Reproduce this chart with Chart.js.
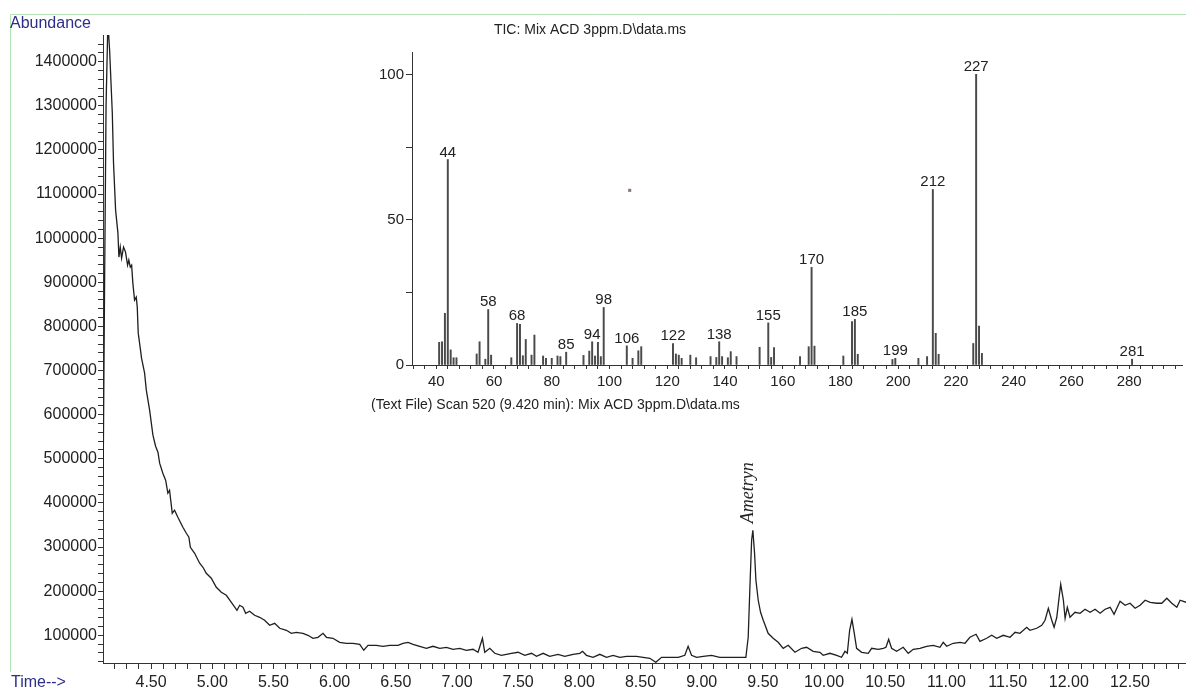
<!DOCTYPE html>
<html>
<head>
<meta charset="utf-8">
<title>TIC: Mix ACD 3ppm.D</title>
<script src="https://cdn.jsdelivr.net/npm/chart.js@4.4.0/dist/chart.umd.min.js"></script>
<style>
  html, body { margin: 0; padding: 0; background: #fff; }
  #wrap { position: relative; width: 1186px; height: 690px; }
  #wrap canvas { position: absolute; left: 0; top: 0; }
</style>
</head>
<body>
<div id="wrap">
  <canvas id="ticChart" width="1186" height="690"></canvas>
  <canvas id="scanChart" width="1186" height="690"></canvas>
</div>
<script>
// total ion chromatogram: retention time (min) and abundance
const tic_time = [
  4.108, 4.120, 4.132, 4.147, 4.161, 4.183, 4.193, 4.210, 4.229, 4.237,
  4.248, 4.259, 4.275, 4.291, 4.308, 4.318, 4.330, 4.341, 4.351, 4.365,
  4.379, 4.387, 4.395, 4.406, 4.422, 4.447, 4.461, 4.488, 4.515, 4.537,
  4.556, 4.570, 4.596, 4.619, 4.637, 4.651, 4.673, 4.692, 4.719, 4.760,
  4.788, 4.809, 4.821, 4.856, 4.897, 4.924, 4.951, 4.992, 5.033, 5.074,
  5.115, 5.156, 5.202, 5.224, 5.251, 5.273, 5.305, 5.346, 5.387, 5.428,
  5.469, 5.510, 5.551, 5.606, 5.646, 5.687, 5.741, 5.782, 5.823, 5.864,
  5.905, 5.933, 5.986, 6.041, 6.096, 6.150, 6.205, 6.238, 6.273, 6.341,
  6.395, 6.450, 6.518, 6.559, 6.600, 6.641, 6.695, 6.750, 6.804, 6.859,
  6.914, 6.968, 7.022, 7.077, 7.131, 7.172, 7.208, 7.227, 7.268, 7.309,
  7.363, 7.404, 7.445, 7.499, 7.554, 7.609, 7.650, 7.704, 7.758, 7.826,
  7.881, 7.949, 8.004, 8.026, 8.058, 8.112, 8.167, 8.222, 8.276, 8.331,
  8.386, 8.467, 8.521, 8.576, 8.625, 8.672, 8.740, 8.808, 8.862, 8.889,
  8.917, 8.958, 9.012, 9.081, 9.148, 9.216, 9.285, 9.326, 9.361, 9.380,
  9.394, 9.408, 9.418, 9.432, 9.443, 9.462, 9.481, 9.503, 9.543, 9.584,
  9.625, 9.666, 9.707, 9.762, 9.817, 9.857, 9.911, 9.966, 9.993, 10.048,
  10.103, 10.143, 10.171, 10.190, 10.209, 10.228, 10.247, 10.266, 10.307, 10.361,
  10.389, 10.443, 10.484, 10.506, 10.528, 10.552, 10.593, 10.647, 10.688, 10.729,
  10.784, 10.838, 10.892, 10.947, 10.974, 11.002, 11.056, 11.111, 11.152, 11.192,
  11.242, 11.274, 11.329, 11.370, 11.411, 11.465, 11.520, 11.561, 11.601, 11.656,
  11.683, 11.738, 11.779, 11.806, 11.833, 11.861, 11.880, 11.902, 11.921, 11.934,
  11.956, 11.970, 11.988, 12.010, 12.051, 12.092, 12.133, 12.174, 12.215, 12.256,
  12.297, 12.338, 12.370, 12.419, 12.460, 12.501, 12.542, 12.583, 12.624, 12.665,
  12.720, 12.760, 12.801, 12.842, 12.883, 12.910, 12.958
];
const tic_abundance = [
  450000, 900000, 1300000, 1490000, 1426500, 1283700, 1170300, 1063700, 1011600, 957200,
  979800, 954900, 979800, 968500, 939000, 950400, 934500, 939000, 898200, 859600,
  866500, 843800, 784800, 762100, 728100, 694100, 655600, 610200, 553500, 528600,
  515000, 490000, 467400, 451500, 422000, 428800, 376600, 383500, 367600, 344900,
  331300, 322200, 299500, 285900, 263300, 254200, 240600, 229300, 208800, 197500,
  190700, 174800, 156700, 168000, 163500, 149900, 154400, 145400, 140800, 134000,
  122700, 127200, 115900, 111300, 104500, 106800, 104500, 100000, 93200, 95500,
  104500, 95500, 93200, 84100, 81900, 81900, 79600, 66000, 77300, 77300,
  75100, 77300, 77300, 81900, 84100, 79600, 75100, 70500, 75100, 70500,
  72800, 68300, 70500, 66000, 68300, 61500, 93200, 61500, 70500, 59200,
  54600, 56900, 59200, 61500, 54600, 59200, 52400, 59200, 52400, 56900,
  52400, 56900, 59200, 63700, 54600, 50100, 56900, 50100, 54600, 50100,
  52400, 52400, 50100, 47800, 38800, 50100, 50100, 50100, 54600, 75100,
  54600, 50100, 52400, 54600, 50100, 50100, 50100, 50100, 50100, 95500,
  208800, 315400, 338100, 286000, 224700, 179400, 152200, 134000, 104500, 93200,
  84100, 70500, 77300, 61500, 70500, 72800, 63700, 61500, 54600, 59200,
  54600, 50100, 63700, 59200, 111300, 136300, 104500, 70500, 61500, 59200,
  70500, 68300, 70500, 72800, 90900, 70500, 63700, 72800, 59200, 68300,
  70500, 75100, 77300, 72800, 84100, 75100, 81900, 84100, 81900, 95500,
  102300, 86400, 93200, 100000, 93200, 100000, 95500, 106800, 104500, 118100,
  111300, 115900, 122700, 134000, 161200, 134000, 118100, 140800, 186200, 215600,
  179400, 138500, 163500, 140800, 152200, 149900, 159000, 152200, 159000, 149900,
  159000, 163500, 147600, 177100, 168000, 172600, 161200, 168000, 179400, 174800,
  172600, 172600, 183900, 172600, 163500, 179400, 174800
];
const time_tick_labels = [4.5, 5, 5.5, 6, 6.5, 7, 7.5, 8, 8.5, 9, 9.5, 10, 10.5, 11, 11.5, 12, 12.5];
const abundance_tick_labels = [100000, 200000, 300000, 400000, 500000, 600000, 700000,
  800000, 900000, 1000000, 1100000, 1200000, 1300000, 1400000];

// mass spectrum of scan 520 (9.420 min): m/z and relative intensity (%)
const ms_mz = [
  41, 42, 43, 44, 45, 46, 47, 54, 55, 57, 58, 59, 66, 68, 69, 70, 71, 73, 74,
  77, 78, 80, 82, 83, 85, 91, 93, 94, 95, 96, 97, 98, 106, 108, 110, 111,
  122, 123, 124, 125, 128, 130, 135, 137, 138, 139, 141, 142, 144,
  152, 155, 156, 157, 166, 169, 170, 171, 181, 184, 185, 186, 198, 199,
  207, 210, 212, 213, 214, 226, 227, 228, 229, 281
];
const ms_intensity = [
  7.8, 8, 17.8, 70.7, 5.2, 2.5, 2.5, 3.8, 8, 2, 19.1, 3.4, 2.5, 14.3, 14, 3.2, 8.8, 3.4, 10.3,
  3.1, 2.3, 2.3, 3.1, 2.9, 4.4, 3.3, 4.8, 8, 3.1, 7.8, 2.9, 19.8, 6.6, 2.3, 4.9, 6.3,
  7.4, 3.8, 3.4, 2.3, 3.4, 2.5, 2.9, 2.6, 8, 2.9, 2.5, 4.6, 2.9,
  6.1, 14.5, 2.6, 6, 2.9, 6.3, 33.6, 6.5, 3.1, 14.9, 15.7, 3.7, 1.9, 2.3,
  2.3, 2.9, 60.4, 10.9, 3.7, 7.4, 100, 13.4, 4, 2
];
const ms_labels = [44, 58, 68, 85, 94, 98, 106, 122, 138, 155, 170, 185, 199, 212, 227, 281];
const mz_tick_labels = [40, 60, 80, 100, 120, 140, 160, 180, 200, 220, 240, 260, 280];
const intensity_tick_labels = [0, 50, 100];
const scan_cursor = [107, 60.1];

Chart.defaults.font.family = "'Liberation Sans', Arial, Helvetica, sans-serif";
Chart.defaults.color = '#222';

const AXIS = '#333';
const BLUE = '#2d2d8a';

// green frame and the free text around the chromatogram
const ticDecor = {
  id: 'ticDecor',
  beforeDraw(chart) {
    const ctx = chart.ctx;
    ctx.save();
    ctx.strokeStyle = '#b4e2b4';
    ctx.lineWidth = 1;
    ctx.beginPath();
    ctx.moveTo(10.5, 672);
    ctx.lineTo(10.5, 14.5);
    ctx.lineTo(1186, 14.5);
    ctx.stroke();
    ctx.restore();
  },
  afterDraw(chart) {
    const ctx = chart.ctx;
    ctx.save();
    ctx.textBaseline = 'middle';
    ctx.textAlign = 'left';
    ctx.fillStyle = BLUE;
    ctx.font = "16px 'Liberation Sans', Arial, sans-serif";
    ctx.fillText('Abundance', 10, 24);
    ctx.fillText('Time-->', 11, 683);

    ctx.fillStyle = '#222';
    ctx.font = "14px 'Liberation Sans', Arial, sans-serif";
    ctx.textAlign = 'center';
    ctx.fillText('TIC: Mix ACD 3ppm.D\\data.ms', 590, 30);
    ctx.textAlign = 'left';
    ctx.fillText('(Text File) Scan 520 (9.420 min): Mix ACD 3ppm.D\\data.ms', 371, 405);

    // compound name above the big peak between 9 and 10 min
    let best = -1;
    tic_time.forEach((t, i) => {
      if (t > 9 && t < 10 && (best < 0 || tic_abundance[i] > tic_abundance[best])) best = i;
    });
    const px = chart.scales.x.getPixelForValue(tic_time[best]);
    const py = chart.scales.y.getPixelForValue(tic_abundance[best]);
    ctx.translate(px, py - 7);
    ctx.rotate(-Math.PI / 2);
    ctx.textBaseline = 'alphabetic';
    ctx.font = "italic 18px 'Liberation Serif', 'Times New Roman', serif";
    ctx.fillText('Ametryn', 0, 0);
    ctx.restore();
  }
};

new Chart(document.getElementById('ticChart'), {
  type: 'line',
  data: {
    datasets: [{
      data: tic_time.map((t, i) => ({ x: t, y: tic_abundance[i] })),
      borderColor: '#1f1f1f',
      borderWidth: 1.3,
      pointRadius: 0,
      tension: 0,
      fill: false
    }]
  },
  options: {
    responsive: false,
    animation: false,
    layout: { padding: { left: 0, top: 35, right: 0, bottom: 0 } },
    plugins: { legend: { display: false }, tooltip: { enabled: false } },
    scales: {
      x: {
        type: 'linear',
        min: 4.107,
        max: 12.958,
        grid: { drawOnChartArea: false, tickLength: 6, color: AXIS },
        border: { color: AXIS, width: 1 },
        ticks: {
          stepSize: 0.1,
          autoSkip: false,
          maxRotation: 0,
          includeBounds: false,
          padding: 4,
          font: { size: 16 },
          callback: (v) => time_tick_labels.some((l) => Math.abs(l - v) < 1e-6) ? v.toFixed(2) : ''
        },
        afterFit: (s) => { s.height = 27; }
      },
      y: {
        type: 'linear',
        min: 37200,
        max: 1460500,
        grid: { drawOnChartArea: false, tickLength: 5, color: AXIS },
        border: { color: AXIS, width: 1 },
        ticks: {
          autoSkip: false,
          padding: 1,
          font: { size: 16 },
          callback: (v) => abundance_tick_labels.some((l) => Math.abs(l - v) < 1) ? String(Math.round(v)) : ''
        },
        // minor tick every 20000, labelled every 100000
        afterBuildTicks: (s) => {
          const t = [];
          for (let v = 40000; v <= 1440000; v += 20000) t.push({ value: v });
          s.ticks = t;
        },
        afterFit: (s) => { s.width = 103; }
      }
    }
  },
  plugins: [ticDecor]
});

// peak m/z labels over the spectrum lines
const msLabels = {
  id: 'msLabels',
  afterDatasetsDraw(chart) {
    const ctx = chart.ctx;
    ctx.save();
    ctx.fillStyle = '#222';
    ctx.font = "15px 'Liberation Sans', Arial, sans-serif";
    ctx.textAlign = 'center';
    ctx.textBaseline = 'alphabetic';
    ms_labels.forEach((m) => {
      const i = ms_mz.indexOf(m);
      const x = chart.scales.x.getPixelForValue(m);
      const y = chart.scales.y.getPixelForValue(ms_intensity[i]);
      ctx.fillText(String(m), x, y - 3);
    });
    ctx.restore();
  }
};

new Chart(document.getElementById('scanChart'), {
  type: 'bar',
  data: {
    datasets: [{
      type: 'bar',
      data: ms_mz.map((m, i) => ({ x: m, y: ms_intensity[i] })),
      backgroundColor: '#4a4a4a',
      barThickness: 1.3,
      grouped: false
    }, {
      type: 'scatter',
      data: [{ x: scan_cursor[0], y: scan_cursor[1] }],
      pointStyle: 'rect',
      pointRadius: 2.2,
      backgroundColor: '#8e7483',
      borderWidth: 0
    }]
  },
  options: {
    responsive: false,
    animation: false,
    layout: { padding: { left: 0, top: 52, right: 4, bottom: 0 } },
    plugins: { legend: { display: false }, tooltip: { enabled: false } },
    scales: {
      x: {
        type: 'linear',
        min: 31.6,
        max: 298.3,
        offset: false,
        grid: { offset: false, drawOnChartArea: false, tickLength: 4, color: AXIS },
        border: { color: AXIS, width: 1 },
        ticks: {
          stepSize: 4,
          autoSkip: false,
          maxRotation: 0,
          includeBounds: false,
          padding: 4,
          font: { size: 15 },
          callback: (v) => mz_tick_labels.includes(v) ? String(v) : ''
        },
        afterFit: (s) => { s.height = 325; }
      },
      y: {
        min: 0,
        max: 107.7,
        grid: { drawOnChartArea: false, tickLength: 6, color: AXIS },
        border: { color: AXIS, width: 1 },
        ticks: {
          stepSize: 25,
          autoSkip: false,
          includeBounds: false,
          padding: 2,
          font: { size: 15 },
          callback: (v) => intensity_tick_labels.includes(v) ? String(v) : ''
        },
        afterFit: (s) => { s.width = 412; }
      }
    }
  },
  plugins: [msLabels]
});
</script>
</body>
</html>
